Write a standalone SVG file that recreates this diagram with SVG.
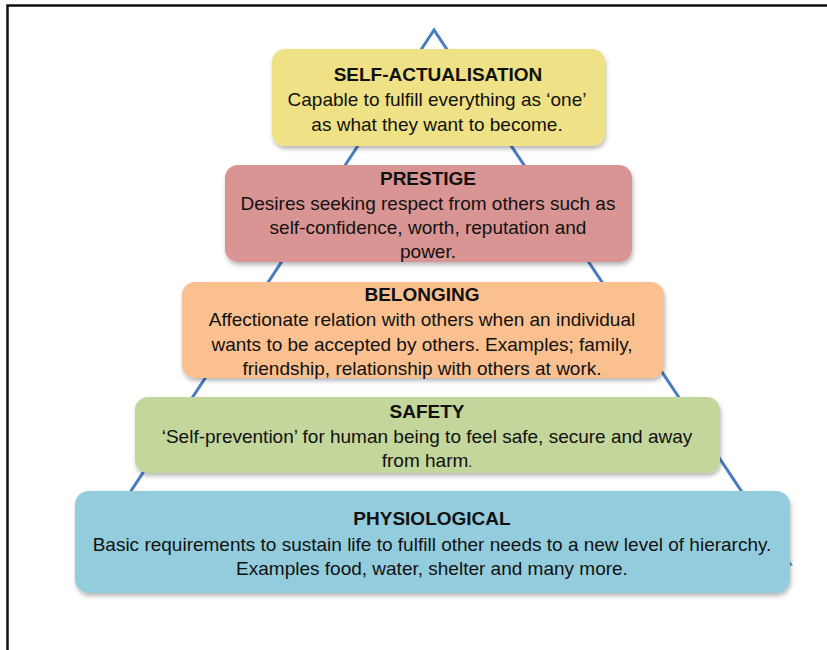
<svg xmlns="http://www.w3.org/2000/svg" width="827" height="650" viewBox="0 0 827 650">
  <style>
    .box { stroke: none; filter: url(#sh); }
    .t { font-family: "Liberation Sans", Arial, sans-serif; font-size: 19px; fill: #111; text-anchor: middle; }
    .b { font-weight: bold; }
  </style>
  <defs>
    <filter id="sh" x="-5%" y="-10%" width="110%" height="130%">
      <feDropShadow dx="1" dy="3" stdDeviation="2" flood-color="#000" flood-opacity="0.28"/>
    </filter>
  </defs>
  <rect width="827" height="650" fill="#fff"/>
  <path d="M7.5 650 V5.5 H827" fill="none" stroke="#111" stroke-width="2.5"/>
  <g id="connectors">
    <polygon points="434,30 83,564 790,564" fill="none" stroke="#4a7dbf" stroke-width="3" stroke-linejoin="miter"/>
  </g>
  <g id="self-actualisation">
    <rect class="box" x="272" y="49" width="333" height="97" rx="13" fill="#efe185"/>
    <text class="t b" x="438" y="81">SELF-ACTUALISATION</text>
    <text class="t" x="437" y="106">Capable to fulfill everything as ‘one’</text>
    <text class="t" x="437" y="131">as what they want to become.</text>
  </g>
  <g id="prestige">
    <rect class="box" x="225" y="165" width="407" height="97" rx="13" fill="#d99594"/>
    <text class="t b" x="428" y="185">PRESTIGE</text>
    <text class="t" x="428" y="210">Desires seeking respect from others such as</text>
    <text class="t" x="428" y="234">self-confidence, worth, reputation and</text>
    <text class="t" x="428" y="258">power.</text>
  </g>
  <g id="belonging">
    <rect class="box" x="182" y="282" width="482" height="96" rx="13" fill="#fac090"/>
    <text class="t b" x="422" y="301">BELONGING</text>
    <text class="t" x="422" y="326">Affectionate relation with others when an individual</text>
    <text class="t" x="422" y="351">wants to be accepted by others. Examples; family,</text>
    <text class="t" x="422" y="375">friendship, relationship with others at work.</text>
  </g>
  <g id="safety">
    <rect class="box" x="135" y="397" width="585" height="76" rx="13" fill="#c3d69b"/>
    <text class="t b" x="427" y="418">SAFETY</text>
    <text class="t" x="427" y="443">‘Self-prevention’ for human being to feel safe, secure and away</text>
    <text class="t" x="427" y="467">from harm<tspan font-size="14">.</tspan></text>
  </g>
  <g id="physiological">
    <rect class="box" x="75" y="491" width="715" height="102" rx="14" fill="#93cddd"/>
    <text class="t b" x="432" y="525">PHYSIOLOGICAL</text>
    <text class="t" x="432" y="551">Basic requirements to sustain life to fulfill other needs to a new level of hierarchy.</text>
    <text class="t" x="432" y="575">Examples food, water, shelter and many more.</text>
  </g>
</svg>
